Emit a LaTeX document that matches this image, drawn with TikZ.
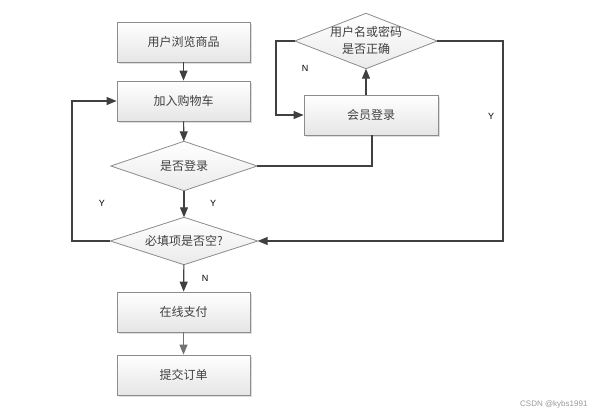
\documentclass[tikz,border=0pt]{standalone}
\usepackage{fontspec}
\setmainfont{Liberation Sans}
\newfontfamily\cjk{Noto Sans CJK SC}
\usetikzlibrary{arrows.meta,shapes.geometric,shadows,calc}
\definecolor{ln}{HTML}{404040}
\definecolor{bd}{HTML}{8C8C8C}
\tikzset{
  boxnode/.style={rectangle, draw=bd, line width=0.8pt, top color=white, bottom color=black!10,
    minimum width=133pt, minimum height=40pt, inner sep=0pt,
    drop shadow={shadow xshift=1.5pt, shadow yshift=-1.5pt, fill=black!25},
    font=\cjk\fontsize{12}{14}\selectfont, text=black!75},
  dianode/.style={rectangle, inner sep=0pt, font=\cjk\fontsize{12}{14}\selectfont, text=black!75, align=center},
  diashape/.style={draw=bd, line width=0.8pt, top color=white, bottom color=black!8},
  conn/.style={draw=ln, line width=1.1pt},
  arr/.style={conn, -{Triangle[length=10pt,width=8pt]}},
  lbl/.style={font=\fontsize{9}{11}\selectfont, text=black}
}
\newcommand{\mydiam}[1]{\path[diashape] (#1.north) -- (#1.east) -- (#1.south) -- (#1.west) -- cycle;}
\begin{document}
\begin{tikzpicture}[x=1pt,y=-1pt]
\useasboundingbox (0,0) rectangle (595,415);
\fill[white] (0,0) rectangle (595,415);
\node[boxnode] (b1) at (183.5,42) {用户浏览商品};
\node[boxnode] (b2) at (183.5,101) {加入购物车};
\node[dianode, minimum width=146pt, minimum height=49pt] (d1) at (184,166) {};
\node[dianode, minimum width=147pt, minimum height=47pt] (d2) at (184,241) {};
\node[boxnode] (p1) at (183.5,312) {在线支付};
\node[boxnode] (p2) at (183.5,375) {提交订单};
\node[boxnode, minimum width=134pt] (m) at (371,115) {会员登录};
\node[dianode, minimum width=142pt, minimum height=55pt] (d3) at (366,41) {};
\mydiam{d1}
\mydiam{d2}
\mydiam{d3}
\node[dianode] (t1) at (d1) {是否登录};
\node[dianode] (t2) at (d2) {必填项是否空?};
\node[dianode] (t3) at (366,40) {用户名或密码\\[3pt]是否正确};
\coordinate (nl) at (276,41);
\coordinate (yr) at (503,241);
\coordinate (yl) at (72,241);
\draw[arr] (b1) -- (b2);
\draw[arr] (b2) -- (d1);
\draw[conn] (d1.east) -| ($(m.south)+(1,0)$);
\draw[arr] (d3.south|-m.north) -- (d3.south);
\draw[arr] (d3.west) -- (nl) |- (m.west);
\draw[arr] (d3.east) -| (yr) -- (d2.east);
\draw[arr] (d1) -- (d2);
\draw[arr] (d2.west) -- (yl) |- (b2.west);
\draw[arr] (d2) -- (p1);
\draw[arr, draw=black!55] (p1) -- (p2);
\node[lbl] (lN1) at (305,68) {N};
\node[lbl] (lY1) at (491,116) {Y};
\node[lbl] (lY2) at (213,203) {Y};
\node[lbl] (lY3) at (102,203) {Y};
\node[lbl] (lN2) at (205,278) {N};
\node[font=\fontsize{8}{10}\selectfont, text=black!40, anchor=east] (wm) at (591,404) {CSDN @kybs1991};
\end{tikzpicture}
\end{document}
